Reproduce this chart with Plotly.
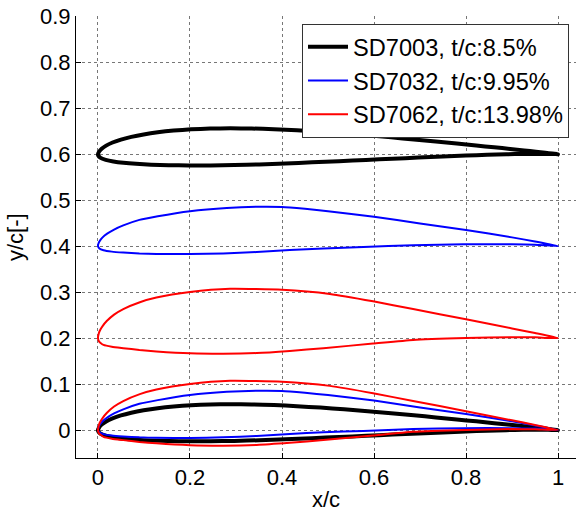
import plotly.graph_objects as go

# ---- data ----
names = ["SD7003, t/c:8.5%", "SD7032, t/c:9.95%", "SD7062, t/c:13.98%"]
offsets = [0.6, 0.4, 0.2]

sd7003_xu = [0, 0.0023, 0.008, 0.0177, 0.0316, 0.0499, 0.0725, 0.0992, 0.1299, 0.1644, 0.2024, 0.2436,
             0.2876, 0.3341, 0.3825, 0.4325, 0.4835, 0.535, 0.5864, 0.6372, 0.6867, 0.7345, 0.7799,
             0.8222, 0.8611, 0.896, 0.9264, 0.9519, 0.9724, 0.9875, 1.0]
sd7003_yu = [0, 0.0053, 0.0117, 0.0186, 0.0253, 0.0317, 0.0376, 0.0429, 0.0475, 0.0512, 0.0539, 0.0556,
             0.0562, 0.0557, 0.0542, 0.0518, 0.0487, 0.045, 0.0409, 0.0365, 0.032, 0.0274, 0.023,
             0.0188, 0.0149, 0.0114, 0.0082, 0.0055, 0.0031, 0.0013, 0.0]
sd7003_xl = [0, 0.0005, 0.0057, 0.0168, 0.0334, 0.0553, 0.0827, 0.1156, 0.1539, 0.1971, 0.2448, 0.2961,
             0.3505, 0.4071, 0.4651, 0.5239, 0.5825, 0.6402, 0.6961, 0.7496, 0.7997, 0.8459, 0.8875,
             0.9239, 0.9544, 0.9784, 0.9944, 1.0]
sd7003_yl = [0, -0.0029, -0.0081, -0.0123, -0.0159, -0.0188, -0.0211, -0.0229, -0.0241, -0.0246, -0.0245,
             -0.0237, -0.0223, -0.0202, -0.0178, -0.0152, -0.0126, -0.0099, -0.0074, -0.0052, -0.0031,
             -0.0015, -0.0003, 0.0004, 0.0005, 0.0003, 0.0001, 0.0]

sd7032_xu = [0, 0.002, 0.005, 0.01, 0.02, 0.035, 0.055, 0.09, 0.13, 0.2, 0.28, 0.35, 0.4, 0.45, 0.5,
             0.6, 0.7, 0.8, 0.9, 0.95, 1.0]
sd7032_yu = [0, 0.008, 0.013, 0.019, 0.027, 0.036, 0.045, 0.057, 0.065, 0.076, 0.083, 0.0855, 0.085,
             0.081, 0.076, 0.064, 0.049, 0.035, 0.019, 0.010, 0.0]
sd7032_xl = [0, 0.003, 0.012, 0.03, 0.055, 0.09, 0.127, 0.2, 0.272, 0.345, 0.417, 0.49, 0.577, 0.685,
             0.795, 0.9, 0.95, 1.0]
sd7032_yl = [0, -0.005, -0.009, -0.012, -0.014, -0.016, -0.017, -0.0174, -0.016, -0.013, -0.0087,
             -0.005, -0.002, 0.002, 0.004, 0.004, 0.003, 0.0]

sd7062_xu = [0, 0.002, 0.005, 0.01, 0.019, 0.035, 0.055, 0.091, 0.127, 0.2, 0.287, 0.4, 0.504, 0.598,
             0.685, 0.8, 0.9, 0.95, 1.0]
sd7062_yu = [0, 0.011, 0.018, 0.026, 0.037, 0.051, 0.063, 0.078, 0.088, 0.100, 0.107, 0.105, 0.096,
             0.080, 0.063, 0.041, 0.021, 0.011, 0.0]
sd7062_xl = [0, 0.002, 0.005, 0.012, 0.03, 0.055, 0.09, 0.127, 0.2, 0.272, 0.345, 0.417, 0.49, 0.598,
             0.685, 0.8, 0.9, 0.95, 1.0]
sd7062_yl = [0, -0.007, -0.010, -0.015, -0.019, -0.022, -0.026, -0.029, -0.033, -0.034, -0.0326,
             -0.028, -0.022, -0.012, -0.004, 0.0, 0.002, 0.0015, 0.0]

x_ticks = [0, 0.2, 0.4, 0.6, 0.8, 1.0]
x_tick_labels = ["0", "0.2", "0.4", "0.6", "0.8", "1"]
y_ticks = [0, 0.1, 0.2, 0.3, 0.4, 0.5, 0.6, 0.7, 0.8, 0.9]
y_tick_labels = ["0", "0.1", "0.2", "0.3", "0.4", "0.5", "0.6", "0.7", "0.8", "0.9"]

# ---- styles ----
colors = ["#000000", "#0000ff", "#ff0000"]
widths = [4, 2, 2]
FONT = "Arial, Liberation Sans, sans-serif"

foils = [
    (sd7003_xu, sd7003_yu, sd7003_xl, sd7003_yl),
    (sd7032_xu, sd7032_yu, sd7032_xl, sd7032_yl),
    (sd7062_xu, sd7062_yu, sd7062_xl, sd7062_yl),
]


def outline(xu, yu, xl, yl, off):
    xs = list(reversed(xu)) + xl[1:]
    ys = [v + off for v in reversed(yu)] + [v + off for v in yl[1:]]
    return xs, ys


fig = go.Figure()
for i, f in enumerate(foils):
    xs, ys = outline(*f, offsets[i])
    fig.add_trace(go.Scatter(x=xs, y=ys, mode="lines", name=names[i],
                             line=dict(color=colors[i], width=widths[i], shape="spline", smoothing=0.5)))
for i, f in enumerate(foils):
    xs, ys = outline(*f, 0.0)
    fig.add_trace(go.Scatter(x=xs, y=ys, mode="lines", name=names[i], showlegend=False,
                             line=dict(color=colors[i], width=widths[i], shape="spline", smoothing=0.5)))

axis_common = dict(showline=True, linecolor="black", linewidth=1, ticks="inside", ticklen=5,
                   tickcolor="black", showgrid=True, gridcolor="#777777", griddash="dot", gridwidth=1,
                   zeroline=False, tickfont=dict(family=FONT, size=22, color="black"), mirror=False,
                   ticklabeloverflow="allow")

fig.update_layout(
    width=576, height=512,
    margin=dict(l=76, r=0, t=16, b=54, autoexpand=False),
    paper_bgcolor="white", plot_bgcolor="white",
    font=dict(family=FONT, color="black"),
    xaxis=dict(range=[-0.0478, 1.0391], tickvals=x_ticks, ticktext=x_tick_labels, **axis_common),
    yaxis=dict(range=[-0.0609, 0.9005], tickvals=y_ticks, ticktext=y_tick_labels, **axis_common),
    legend=dict(x=0.452, y=0.982, xanchor="left", yanchor="top", bgcolor="white",
                bordercolor="#333333", borderwidth=1, font=dict(family=FONT, size=23.6, color="black"),
                itemwidth=40, tracegroupgap=0),
    showlegend=True,
)

fig.add_annotation(text="x/c", x=0.5, y=-0.095, xref="paper", yref="paper", showarrow=False,
                   xanchor="center", yanchor="middle", font=dict(family=FONT, size=22, color="black"))
fig.add_annotation(text="y/c[-]", x=-0.122, y=0.5, xref="paper", yref="paper", showarrow=False,
                   textangle=-90, xanchor="center", yanchor="middle",
                   font=dict(family=FONT, size=22, color="black"))

fig.write_html("out.html", config={"displayModeBar": False},
               post_script="document.body.style.margin='0';")
